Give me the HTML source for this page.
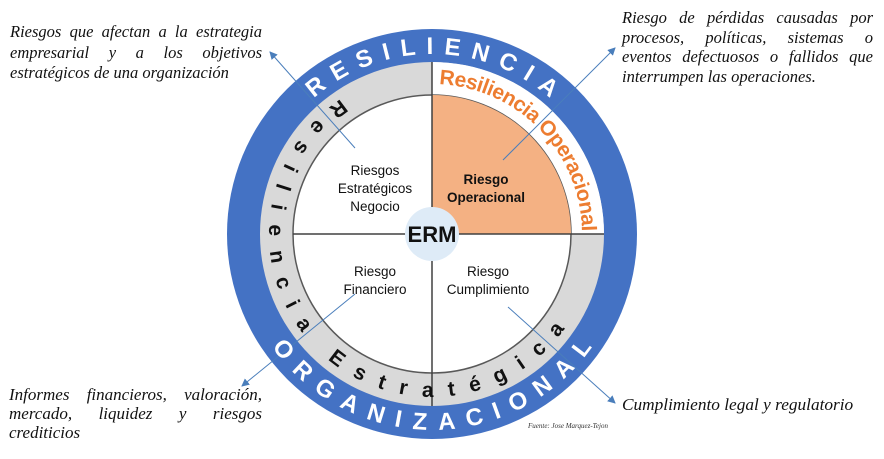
<!DOCTYPE html>
<html><head><meta charset="utf-8"><style>
html,body{margin:0;padding:0;background:#fff;width:884px;height:459px;overflow:hidden}
.t{position:absolute;font-family:"Liberation Serif",serif;font-style:italic;color:#111;text-align:justify;text-align-last:justify}
.l{position:absolute;font-family:"Liberation Serif",serif;font-style:italic;color:#111;text-align:justify;text-align-last:justify;white-space:nowrap}
</style></head><body>
<div class="t" style="left:10px;top:22px;width:252px;font-size:16.5px;line-height:20.5px">Riesgos que afectan a la estrategia empresarial y a los objetivos <span style="display:inline-block;text-align-last:left">estratégicos de una organización</span></div>
<div class="t" style="left:622px;top:8px;width:251px;font-size:16.5px;line-height:19.7px">Riesgo de pérdidas causadas por procesos, políticas, sistemas o eventos defectuosos o fallidos que <span style="display:inline-block">interrumpen las operaciones.</span></div>
<div class="l" style="left:9px;top:385px;width:253px;font-size:17px;line-height:19px">Informes&nbsp;financieros,&nbsp;valoración,</div>
<div class="l" style="left:9px;top:404px;width:253px;font-size:17px;line-height:19px">mercado,&nbsp;liquidez&nbsp;y&nbsp;riesgos</div>
<div class="t" style="left:9px;top:423px;font-size:17px;line-height:19px;text-align-last:left">crediticios</div>
<div class="t" style="left:622px;top:395px;font-size:17.3px;text-align:left;text-align-last:left">Cumplimiento legal y regulatorio</div>
<div class="t" style="left:528px;top:422px;font-size:7px;text-align:left;text-align-last:left;color:#333">Fuente: Jose Marquez-Tejon</div>
<svg width="884" height="459" style="position:absolute;left:0;top:0" xmlns="http://www.w3.org/2000/svg">
<defs>
<marker id="ah" markerWidth="8" markerHeight="8" refX="7" refY="4" orient="auto" markerUnits="userSpaceOnUse"><path d="M0,0 L8,4 L0,8 Z" fill="#4a7ebb"/></marker>
<path id="pTop" d="M252,234 A180 180 0 0 1 612,234"/>
<path id="pBot" d="M236,234 A196 196 0 0 0 628,234"/>
<path id="pGray" d="M432,71 A163 163 0 0 0 432,397 A163 163 0 0 0 432,71"/>
<path id="pOp" d="M432,84 A150 150 0 0 1 582,234"/>
</defs>
<circle cx="432" cy="234" r="205" fill="#4472c4"/>
<circle cx="432" cy="234" r="172" fill="#d9d9d9"/>
<path d="M432,234 L432,62 A172 172 0 0 1 604,234 Z" fill="#fff"/>
<circle cx="432" cy="234" r="139" fill="#fff" stroke="#595959" stroke-width="1.5"/>
<path d="M432,234 L432,95 A139 139 0 0 1 571,234 Z" fill="#f4b183"/>
<line x1="432" y1="62" x2="432" y2="406" stroke="#404040" stroke-width="1.5"/>
<line x1="293" y1="234" x2="604" y2="234" stroke="#404040" stroke-width="1.5"/>
<g stroke="#4a7ebb" stroke-width="1" fill="none" marker-end="url(#ah)">
<line x1="355" y1="148" x2="270" y2="52"/>
<line x1="503" y1="160" x2="615" y2="48"/>
<line x1="355" y1="294" x2="242" y2="386"/>
<line x1="508" y1="307" x2="615" y2="403"/>
</g>
<circle cx="432" cy="234" r="27" fill="#deebf7"/>
<text x="432" y="242" text-anchor="middle" font-family="Liberation Sans,sans-serif" font-weight="bold" font-size="22" fill="#111">ERM</text>
<g font-family="Liberation Sans,sans-serif" font-size="13.5" fill="#111" text-anchor="middle">
<text x="375" y="175">Riesgos</text><text x="375" y="193">Estratégicos</text><text x="375" y="211">Negocio</text>
<text x="375" y="276">Riesgo</text><text x="375" y="294">Financiero</text>
<text x="488" y="276">Riesgo</text><text x="488" y="294">Cumplimiento</text>
<text x="486" y="184" font-weight="bold">Riesgo</text><text x="486" y="202" font-weight="bold">Operacional</text>
</g>
<g font-family="Liberation Sans,sans-serif" font-weight="bold">
<text font-size="24" fill="#fff"><textPath href="#pTop" startOffset="50%" text-anchor="middle" textLength="258" lengthAdjust="spacing">RESILIENCIA</textPath></text>
<text font-size="24" fill="#fff"><textPath href="#pBot" startOffset="50%" text-anchor="middle" textLength="375" lengthAdjust="spacing">ORGANIZACIONAL</textPath></text>
<text font-size="21" fill="#111"><textPath href="#pGray" startOffset="97" textLength="570" lengthAdjust="spacing">Resiliencia Estratégica</textPath></text>
<text font-size="21" fill="#ed7d31"><textPath href="#pOp" startOffset="7" textLength="226" lengthAdjust="spacing">Resiliencia Operacional</textPath></text>
</g>
</svg>
</body></html>
